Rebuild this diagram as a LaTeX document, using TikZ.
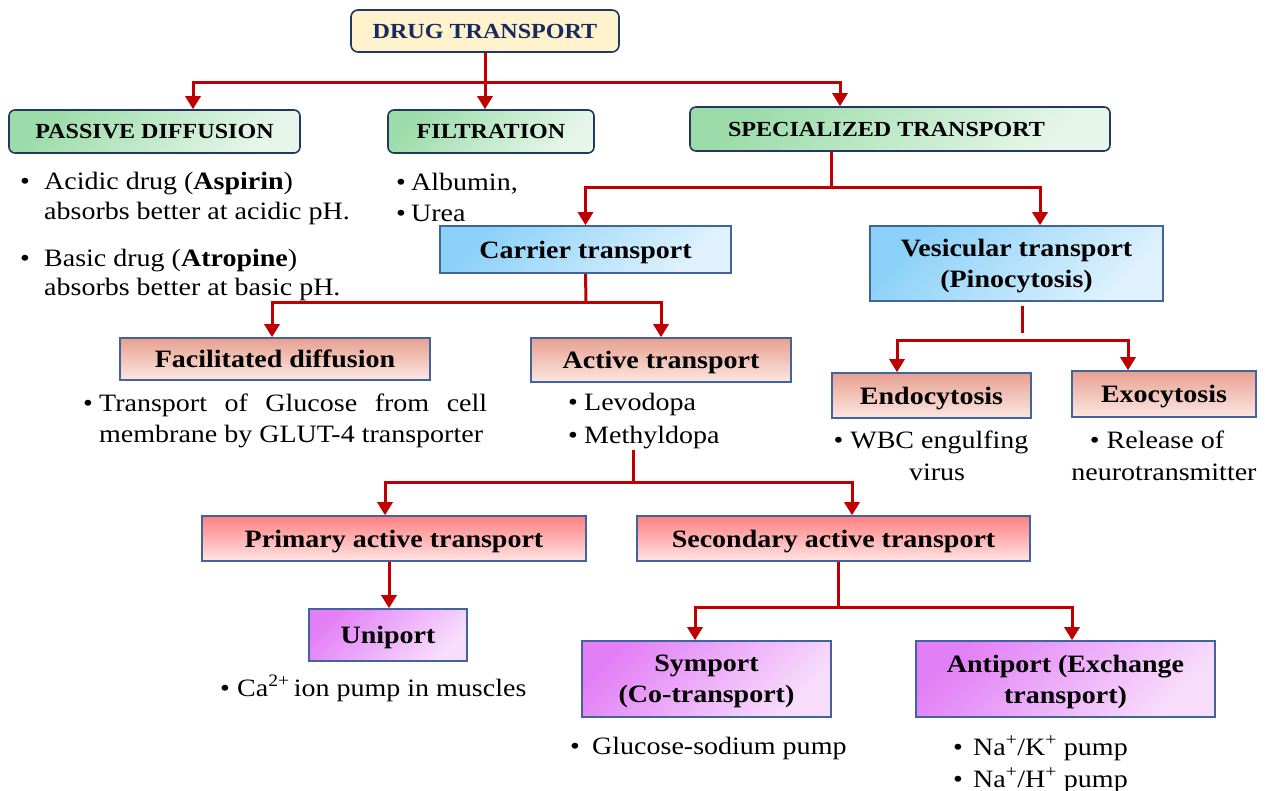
\documentclass[tikz,border=0pt]{standalone}
\usepackage{fontspec}
\setmainfont[FakeStretch=1.12]{Liberation Serif}
\usetikzlibrary{arrows.meta}

\definecolor{arrowred}{HTML}{C00000}
\definecolor{navytext}{HTML}{172B5E}
\definecolor{navyline}{HTML}{22385F}
\definecolor{boxline}{HTML}{41639E}
\definecolor{cream}{HTML}{FFF2CC}
\definecolor{greentop}{HTML}{9CDCAA}
\definecolor{greenbot}{HTML}{E6F6EA}
\definecolor{bluetop}{HTML}{8AD0F8}
\definecolor{bluebot}{HTML}{E0F2FD}
\definecolor{salmontop}{HTML}{E8A090}
\definecolor{salmonbot}{HTML}{FBE7E2}
\definecolor{redtop}{HTML}{FF8080}
\definecolor{redbot}{HTML}{FFE4E4}
\definecolor{purpletop}{HTML}{E27FF6}
\definecolor{purplebot}{HTML}{F8DEFC}

\begin{document}
\begin{tikzpicture}[x=1pt,y=1pt]

\tikzset{box/.style={draw=boxline, line width=1.6pt, inner sep=0pt, align=center, text depth=0pt,
  font=\fontsize{25}{31}\selectfont\bfseries}};
\tikzset{drugbox/.style={box, draw=navyline, rounded corners=7pt, fill=cream,
  text=navytext, font=\fontsize{21.5}{26}\selectfont\bfseries}};
\tikzset{greenbox/.style={box, draw=navyline, rounded corners=6pt,
  top color=greentop, bottom color=greenbot, shading angle=45}};
\tikzset{capsbox/.style={greenbox, font=\fontsize{21.5}{26}\selectfont\bfseries}};
\tikzset{bluebox/.style={box, top color=bluetop, bottom color=bluebot, shading angle=45}};
\tikzset{salmonbox/.style={box, top color=salmontop, bottom color=salmonbot}};
\tikzset{redbox/.style={box, top color=redtop, bottom color=redbot}};
\tikzset{purplebox/.style={box, top color=purpletop, bottom color=purplebot, shading angle=45}};
\tikzset{txt/.style={inner sep=0pt, anchor=base west, font=\fontsize{25}{30}\selectfont}};
\tikzset{link/.style={draw=arrowred, line width=3pt}};
\tikzset{arr/.style={link, -{Triangle[width=15pt,length=13pt]}}};

\useasboundingbox (0,0) rectangle (1265,-790);

% boxes
\node[drugbox, minimum width=268pt, minimum height=42pt] (drug) at (485,-31) {DRUG TRANSPORT};

\node[capsbox, minimum width=291pt, minimum height=43pt] (passive) at (154.5,-131.5) {PASSIVE DIFFUSION};
\node[capsbox, minimum width=206pt, minimum height=43pt] (filt) at (491,-131.5) {FILTRATION};
\node[capsbox, minimum width=420pt, minimum height=44pt] (special) at (900,-129) {SPECIALIZED TRANSPORT\hspace*{27pt}};

\node[bluebox, minimum width=291pt, minimum height=47pt] (carrier) at (585.5,-249.5) {Carrier transport};
\node[bluebox, minimum width=293pt, minimum height=75pt] (vesic) at (1016.5,-263.5) {Vesicular transport\\(Pinocytosis)};

\node[salmonbox, minimum width=310pt, minimum height=42pt] (facil) at (275,-359) {Facilitated diffusion};
\node[salmonbox, minimum width=260pt, minimum height=44pt] (active) at (661,-360) {Active transport};
\node[salmonbox, minimum width=199pt, minimum height=45pt] (endo) at (931.5,-395.5) {Endocytosis};
\node[salmonbox, minimum width=184pt, minimum height=46pt] (exo) at (1164,-394) {Exocytosis};

\node[redbox, minimum width=384pt, minimum height=45pt] (primary) at (394,-538.5) {Primary active transport};
\node[redbox, minimum width=393pt, minimum height=45pt] (secondary) at (833.5,-538.5) {Secondary active transport};

\node[purplebox, minimum width=158pt, minimum height=52pt] (uniport) at (388,-635) {Uniport};
\node[purplebox, minimum width=249pt, minimum height=76pt] (symport) at (706.5,-679) {Symport\\(Co-transport)};
\node[purplebox, minimum width=299pt, minimum height=76pt] (antiport) at (1065.5,-679) {Antiport (Exchange\\transport)};

% texts
\node[txt] (pdb1) at (20,-189) {\textbullet};
\node[txt] (pd1) at (44,-189) {Acidic drug (\textbf{Aspirin})};
\node[txt] (pd2) at (44,-219) {absorbs better at acidic pH.};
\node[txt] (pdb2) at (20,-266) {\textbullet};
\node[txt] (pd3) at (44,-266) {Basic drug (\textbf{Atropine})};
\node[txt] (pd4) at (44,-295) {absorbs better at basic pH.};

\node[txt] (fb1) at (396,-190) {\textbullet};
\node[txt] (f1) at (411,-190) {Albumin,};
\node[txt] (fb2) at (396,-221) {\textbullet};
\node[txt] (f2) at (411,-221) {Urea};

\node[txt] (fdb1) at (83,-411) {\textbullet};
\node[txt] (fd1) at (99,-411) {\makebox[388pt][s]{Transport of Glucose from cell}};
\node[txt] (fd2) at (99,-442) {membrane by GLUT-4 transporter};

\node[txt] (atb1) at (568,-410) {\textbullet};
\node[txt] (at1) at (584,-410) {Levodopa};
\node[txt] (atb2) at (568,-443) {\textbullet};
\node[txt] (at2) at (584,-443) {Methyldopa};

\node[txt, anchor=base] (en1) at (931,-448) {\textbullet{} WBC engulfing};
\node[txt, anchor=base] (en2) at (937,-480) {virus};
\node[txt, anchor=base] (ex1) at (1157,-448) {\textbullet{} Release of};
\node[txt, anchor=base] (ex2) at (1164,-480) {neurotransmitter};

\node[txt] (unb1) at (220,-696) {\textbullet};
\node[txt] (un1) at (237,-696) {Ca\textsuperscript{2+}\,ion pump in muscles};

\node[txt] (syb1) at (570,-754) {\textbullet};
\node[txt] (sy1) at (592,-754) {Glucose-sodium pump};

\node[txt] (anb1) at (953,-755) {\textbullet};
\node[txt] (an1) at (973,-755) {Na\textsuperscript{+}/K\textsuperscript{+} pump};
\node[txt] (anb2) at (953,-787) {\textbullet};
\node[txt] (an2) at (973,-787) {Na\textsuperscript{+}/H\textsuperscript{+} pump};

% connectors
\coordinate (j1) at (485,-82);
\draw[link] (drug.south) -- (j1);
\draw[arr] (j1) -| ([xshift=38.5pt]passive.north);
\draw[arr] (j1) -- (filt.north -| j1);
\draw[arr] (j1) -| ([xshift=-60pt]special.north);

\coordinate (j2) at (831,-187);
\draw[link] ([xshift=-69pt]special.south) -- (j2);
\draw[arr] (j2) -| (carrier.north);
\draw[arr] (j2) -| ([xshift=23.5pt]vesic.north);

\coordinate (j3) at (586,-302);
\draw[link] (carrier.south) -- (j3);
\draw[arr] (j3) -| ([xshift=-3pt]facil.north);
\draw[arr] (j3) -| (active.north);

\coordinate (v1) at (1022,-333);
\coordinate (j4) at (1022,-340);
\draw[link] ([xshift=5.5pt,yshift=-4pt]vesic.south) -- (v1);
\draw[arr] (j4) -| ([xshift=-34.5pt]endo.north);
\draw[arr] (j4) -| ([xshift=-36pt]exo.north);

\coordinate (a1) at (633,-450);
\coordinate (j5) at (633,-482);
\draw[link] (a1) -- (j5);
\draw[arr] (j5) -| ([xshift=-9pt]primary.north);
\draw[arr] (j5) -| ([xshift=18.5pt]secondary.north);

\draw[arr] ([xshift=-5pt]primary.south) -- ([xshift=1pt]uniport.north);

\coordinate (j6) at (838,-607);
\draw[link] ([xshift=4.5pt]secondary.south) -- (j6);
\draw[arr] (j6) -| ([xshift=-11.5pt]symport.north);
\draw[arr] (j6) -| ([xshift=6.5pt]antiport.north);

\end{tikzpicture}
\end{document}
